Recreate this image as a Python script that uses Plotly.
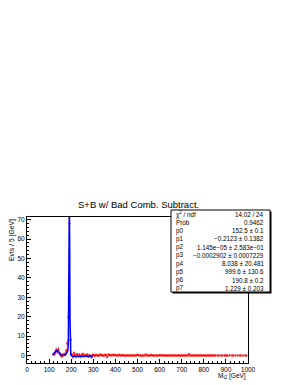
import numpy as np
import plotly.graph_objects as go

# ---------------- data ----------------
bin_width = 5
bin_lo = 122.5  # first bin centre
vals_low = [0.5, 1.5, 2.8, 2.0, 3.0, 1.0, 0.2, -0.5, 0.5, 0.3,
            0.8, 2.5, 6.2, 20.0, 68.0, 8.0, 0.5, -0.8, 1.2, 0.3,
            -0.5, 0.6, -0.3, 0.4, -0.6, 0.2, 0.8, -0.4, 0.3, -0.2,
            0.5, -0.7, 0.1, -0.3, -1.0, 0.4, 0.2, -0.2, 0.3, 0.1,
            -0.3, 0.2, 0.5, 0.0, 0.1, -0.2, 0.4, 0.2, -0.8, 0.5,
            0.1, 0.3, -0.1, 0.2, 0.4, 0.1]
errs_low = [0.9, 1.2, 1.3, 1.2, 1.3, 1.0, 0.8, 0.8, 0.8, 0.8,
            0.9, 1.2, 1.8, 3.5, 6.0, 2.2, 0.8, 0.8, 0.9, 0.7,
            0.7, 0.7, 0.6, 0.6, 0.6, 0.6, 0.6, 0.5, 0.5, 0.5,
            0.5, 0.5, 0.4, 0.4, 0.5, 0.4, 0.4, 0.4, 0.4, 0.3,
            0.3, 0.3, 0.4, 0.3, 0.3, 0.3, 0.3, 0.3, 0.4, 0.3,
            0.3, 0.3, 0.2, 0.2, 0.3, 0.2]
vals_high = [0.1, 0.0, 0.0, 0.4, 0.0, 0.0, 0.2, 0.0, 0.0, 0.0,
             0.0, 0.0, 0.0, 0.0, 0.0, 0.0, 0.0, 0.0, 0.0, 0.2,
             0.2, 0.0, 0.0, 0.0, 0.0, 0.0, 0.0, 0.5, 0.0, 0.0,
             0.0, 0.0, 0.3, 0.0, 0.0, 0.0, 0.0, 0.0, 0.0, 0.0,
             0.2, 0.0, 0.0, 0.0, 0.0, 0.0, 0.0, 0.0, 0.0, 0.0,
             0.0, 0.0, 0.0, 0.0, 0.0, 0.0, 0.0, 0.0, 0.0, 0.0,
             0.0, 0.0, 0.0, 0.0, 0.0, 0.0, 0.8, 0.0, 0.0, 0.0,
             0.0, 0.0, 0.0, 0.0, 0.0, 0.0, 0.0, 0.0, 0.0, 0.0,
             0.0, 0.0, 0.0, 0.0, 0.0, 0.0, 0.0, 0.0, 0.0, 0.0,
             0.0, None, 0.0, 0.0, None, 0.0, 0.0, None, 0.0, 0.0,
             0.0, 0.0, None, 0.0, None, 0.0, 0.0, None, 0.0, None,
             0.0, None, 0.0, 0.0, None, 0.0, None, 0.0, 0.0, None]
errs_high = [0.2, 0.0, 0.0, 0.3, 0.0, 0.0, 0.2, 0.0, 0.0, 0.0,
             0.0, 0.0, 0.0, 0.0, 0.0, 0.0, 0.0, 0.0, 0.0, 0.2,
             0.2, 0.0, 0.0, 0.0, 0.0, 0.0, 0.0, 0.3, 0.0, 0.0,
             0.0, 0.0, 0.2, 0.0, 0.0, 0.0, 0.0, 0.0, 0.0, 0.0,
             0.2, 0.0, 0.0, 0.0, 0.0, 0.0, 0.0, 0.0, 0.0, 0.0,
             0.0, 0.0, 0.0, 0.0, 0.0, 0.0, 0.0, 0.0, 0.0, 0.0,
             0.0, 0.0, 0.0, 0.0, 0.0, 0.0, 0.3, 0.0, 0.0, 0.0,
             0.0, 0.0, 0.0, 0.0, 0.0, 0.0, 0.0, 0.0, 0.0, 0.0,
             0.0, 0.0, 0.0, 0.0, 0.0, 0.0, 0.0, 0.0, 0.0, 0.0,
             0.0, 0.0, 0.0, 0.0, 0.0, 0.0, 0.0, 0.0, 0.0, 0.0,
             0.0, 0.0, 0.0, 0.0, 0.0, 0.0, 0.0, 0.0, 0.0, 0.0,
             0.0, 0.0, 0.0, 0.0, 0.0, 0.0, 0.0, 0.0, 0.0, 0.0]

fit_x = [115, 120, 125, 130, 135, 140, 145, 150, 155, 160, 165, 170, 175,
         178, 182, 185, 187, 189, 190.5, 191.5, 193, 194.5, 196, 198, 202,
         210, 220, 240, 260, 280, 300]
fit_y = [0.3, 0.8, 1.5, 2.2, 2.6, 2.3, 1.5, 0.7, 0.2, 0.0, 0.0, 0.1, 0.4,
         1.0, 1.8, 2.5, 6.0, 25.0, 60.0, 78.0, 60.0, 20.0, 4.0, 0.5, -0.2,
         -0.4, -0.5, -0.5, -0.5, -0.4, -0.3]

stat_labels = ["χ<sup>2</sup> / ndf", "Prob", "p0", "p1", "p2", "p3", "p4", "p5", "p6", "p7"]
stat_values = ["14.02 / 24", "0.9462", "152.5 ± 0.1", "−0.2123 ± 0.1382",
               "1.145e−05 ± 2.583e−01", "−0.0002902 ± 0.0007229",
               "8.038 ± 20.481", "999.6 ± 130.6", "190.8 ± 0.2", "1.229 ± 0.203"]

title = "S+B w/ Bad Comb. Subtract."
x_title = "M<sub>t2</sub> [GeV]"
y_title = "Evts / 5 [GeV]"

# ---------------- figure ----------------
vals = vals_low + vals_high
errs = errs_low + errs_high
centers = [bin_lo + bin_width * i for i in range(len(vals))]

FONT = "Liberation Sans, Arial, sans-serif"
W, H = 298, 385
L, R, T, B = 27, 50, 217, 22
PW, PH = W - L - R, H - T - B

def px(xp):
    return (xp - L) / PW

def py(yp):
    return (H - B - yp) / PH

RED = "rgba(255,0,0,0.7)"
fig = go.Figure()
fig.add_trace(go.Scatter(
    x=centers, y=vals, mode="markers",
    marker=dict(color=RED, size=2.4),
    error_y=dict(type="data", array=errs, color=RED, thickness=1, width=0),
    error_x=dict(type="constant", value=bin_width / 2, color=RED, thickness=1, width=0),
    showlegend=False, cliponaxis=True))
fig.add_trace(go.Scatter(
    x=fit_x, y=fit_y, mode="lines",
    line=dict(color="#0000ff", width=1.5),
    showlegend=False))

axis_common = dict(
    showgrid=False, zeroline=False, showline=True, linecolor="black", linewidth=1,
    mirror=True, ticks="inside", ticklen=4, tickcolor="black", tickwidth=1,
    tickfont=dict(family=FONT, size=6.5, color="black"), automargin=False,
)
fig.update_xaxes(range=[0, 1000], dtick=100, tick0=0,
                 minor=dict(ticks="inside", dtick=20, ticklen=2, tickcolor="black"),
                 **axis_common)
fig.update_yaxes(range=[-3.9, 71.4], dtick=10, tick0=0,
                 minor=dict(ticks="inside", dtick=2, ticklen=2, tickcolor="black"),
                 **axis_common)

# stats box with shadow
bx0, bx1, by0, by1 = px(171), px(270), py(292), py(210)
sh = 1.5
fig.add_shape(type="rect", xref="paper", yref="paper",
              x0=px(171 + sh), x1=px(270 + sh), y0=py(292 + sh), y1=py(210 + sh),
              line=dict(width=0), fillcolor="black")
fig.add_shape(type="rect", xref="paper", yref="paper",
              x0=bx0, x1=bx1, y0=by0, y1=by1,
              line=dict(color="black", width=1), fillcolor="white")

row0, step = 214.2, 8.25
annotations = []
for i, (lab, val) in enumerate(zip(stat_labels, stat_values)):
    yy = py(row0 + step * i)
    annotations.append(dict(x=px(174), y=yy, xref="paper", yref="paper",
                            text=lab, showarrow=False, xanchor="left", yanchor="middle",
                            font=dict(family=FONT, size=6.3, color="black")))
    annotations.append(dict(x=px(266), y=yy, xref="paper", yref="paper",
                            text=val, showarrow=False, xanchor="right", yanchor="middle",
                            font=dict(family=FONT, size=6.3, color="black")))

annotations.append(dict(x=px(138), y=py(205), xref="paper", yref="paper", text=title,
                        showarrow=False, xanchor="center", yanchor="middle",
                        font=dict(family=FONT, size=9.5, color="black")))
annotations.append(dict(x=px(248), y=py(376), xref="paper", yref="paper", text=x_title,
                        showarrow=False, xanchor="right", yanchor="middle",
                        font=dict(family=FONT, size=6.5, color="black")))
annotations.append(dict(x=px(12), y=py(217), xref="paper", yref="paper", text=y_title,
                        showarrow=False, textangle=-90, xanchor="center", yanchor="top",
                        font=dict(family=FONT, size=6.8, color="black")))

fig.update_layout(
    width=W, height=H, autosize=False,
    margin=dict(l=L, r=R, t=T, b=B, pad=0),
    paper_bgcolor="white", plot_bgcolor="white",
    annotations=annotations,
)

fig.write_html("out.html", config={"displayModeBar": False},
               post_script="document.body.style.margin='0px';document.body.style.padding='0px';")
